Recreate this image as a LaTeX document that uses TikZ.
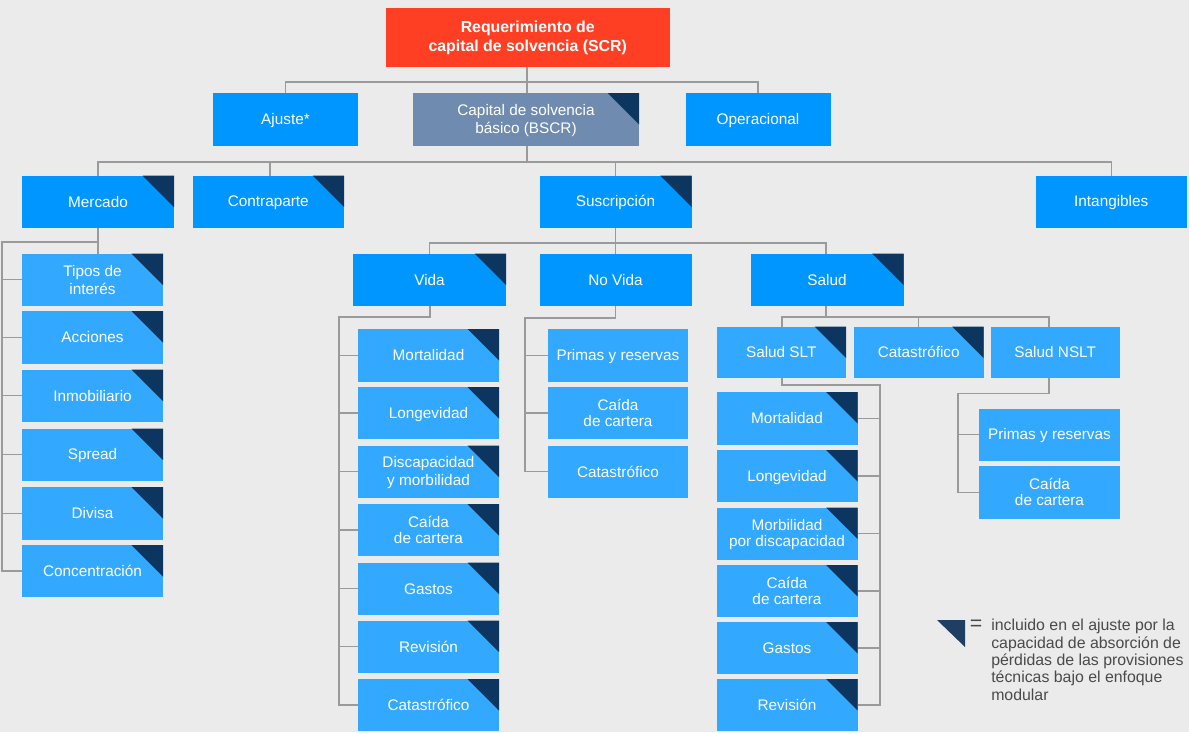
\documentclass[tikz,border=0pt]{standalone}
\usepackage{fontspec}
\setmainfont{Liberation Sans}
\definecolor{bgc}{HTML}{EBEBEB}
\definecolor{redc}{HTML}{FF3F24}
\definecolor{blue1}{HTML}{0096FF}
\definecolor{blue2}{HTML}{33A8FF}
\definecolor{slatec}{HTML}{6F8CB0}
\definecolor{navyc}{HTML}{0C365F}
\definecolor{legc}{HTML}{1F3E63}
\definecolor{linec}{HTML}{9A9A9A}
\definecolor{legtext}{HTML}{4A4A4A}
\tikzset{
  boxbase/.style={inner sep=0pt,outer sep=0pt,align=center,text=white,
    font=\fontsize{11.5}{12}\selectfont},
  lvlone/.style={boxbase,fill=blue1},
  lvltwo/.style={boxbase,fill=blue2},
  toproot/.style={boxbase,fill=redc,font=\fontsize{11.9}{14}\selectfont\bfseries},
  basic/.style={boxbase,fill=slatec},
  conn/.style={draw=linec,line width=1.1pt,line cap=square},
  corner/.style={fill=navyc}
}
\newcommand{\tstrut}{\rule[-1.4pt]{0pt}{11.4pt}}
% \bx{style}{name}{x1}{y1}{x2}{y2}{text}
\newcommand{\bx}[7]{%
  \pgfmathsetmacro{\bw}{(#5-#3)*0.75}%
  \pgfmathsetmacro{\bh}{(#6-#4)*0.75}%
  \pgfmathsetmacro{\bcx}{(#3+#5)/2}%
  \pgfmathsetmacro{\bcy}{(#4+#6)/2}%
  \node[#1,minimum width=\bw pt,minimum height=\bh pt] (#2) at (\bcx,\bcy) {\tstrut #7};}
\newcommand{\nl}{\\\tstrut}
\newcommand{\flag}[1]{\fill[corner] (#1.north east) -- ++(-31.5,0) -- ($(#1.north east)+(0,31.5)$) -- cycle;}
\usetikzlibrary{calc}
\begin{document}
\begin{tikzpicture}[x=0.75pt,y=-0.75pt]
\fill[bgc] (0,0) rectangle (1189,732);
\useasboundingbox (0,0) rectangle (1189,732);
% top
\bx{toproot}{scr}{386}{7.5}{669.5}{67}{Requerimiento de\nl capital de solvencia (SCR)}
\bx{lvlone}{ajuste}{213}{93}{358}{146}{Ajuste*}
\bx{basic}{bscr}{413}{93}{639}{146}{Capital de solvencia\nl básico (BSCR)}
\bx{lvlone}{oper}{685.5}{93}{830.5}{146}{Operacional}
% row 3
\bx{lvlone}{mercado}{22}{175.5}{174}{228}{Mercado}
\bx{lvlone}{contra}{192.5}{175.5}{344}{228}{Contraparte}
\bx{lvlone}{suscr}{539.5}{175.5}{691.5}{228}{Suscripción}
\bx{lvlone}{intang}{1035.5}{175.5}{1187}{228}{Intangibles}
% row 4
\bx{lvlone}{vida}{353}{253.5}{506}{306}{Vida}
\bx{lvlone}{novida}{539.5}{253.5}{691.5}{306}{No Vida}
\bx{lvlone}{salud}{750.5}{253.5}{903.5}{306}{Salud}
% mercado children
\bx{lvltwo}{tipos}{22}{253.5}{163}{306}{Tipos de\nl interés}
\bx{lvltwo}{acciones}{22}{311}{163}{363.5}{Acciones}
\bx{lvltwo}{inmob}{22}{369.5}{163}{422}{Inmobiliario}
\bx{lvltwo}{spread}{22}{428.5}{163}{481}{Spread}
\bx{lvltwo}{divisa}{22}{487}{163}{539.5}{Divisa}
\bx{lvltwo}{concen}{22}{545}{163}{597}{Concentración}
% vida children
\bx{lvltwo}{vmort}{358}{329}{499}{381.5}{Mortalidad}
\bx{lvltwo}{vlong}{358}{387}{499}{439}{Longevidad}
\bx{lvltwo}{vdisc}{358}{445.5}{499}{497.5}{Discapacidad\nl y morbilidad}
\bx{lvltwo}{vcaida}{358}{504}{499}{556}{Caída\nl de cartera}
\bx{lvltwo}{vgast}{358}{562.5}{499}{615}{Gastos}
\bx{lvltwo}{vrev}{358}{620.5}{499}{673}{Revisión}
\bx{lvltwo}{vcat}{358}{679}{499}{731}{Catastrófico}
% no vida children
\bx{lvltwo}{nprim}{548}{329}{688}{381.5}{Primas y reservas}
\bx{lvltwo}{ncaida}{548}{387}{688}{439}{Caída\nl de cartera}
\bx{lvltwo}{ncat}{548}{445.5}{688}{497.5}{Catastrófico}
% salud children
\bx{lvltwo}{slt}{716.5}{326.5}{846}{378}{Salud SLT}
\bx{lvltwo}{scat}{854}{326.5}{983.5}{378}{Catastrófico}
\bx{lvltwo}{nslt}{990.5}{326.5}{1120}{378}{Salud NSLT}
% SLT children
\bx{lvltwo}{smort}{716.5}{392}{857.5}{444.5}{Mortalidad}
\bx{lvltwo}{slong}{716.5}{450}{857.5}{502}{Longevidad}
\bx{lvltwo}{smorb}{716.5}{507.5}{857.5}{560}{Morbilidad\nl por discapacidad}
\bx{lvltwo}{scaida}{716.5}{565}{857.5}{617}{Caída\nl de cartera}
\bx{lvltwo}{sgast}{716.5}{622}{857.5}{674}{Gastos}
\bx{lvltwo}{srev}{716.5}{679}{857.5}{731}{Revisión}
% NSLT children
\bx{lvltwo}{tprim}{979}{408.5}{1120}{461}{Primas y reservas}
\bx{lvltwo}{tcaida}{979}{466}{1120}{518.5}{Caída\nl de cartera}
% corners
\foreach \n in {bscr,mercado,contra,suscr,vida,salud,tipos,acciones,inmob,spread,divisa,concen,
  vmort,vlong,vdisc,vcaida,vgast,vrev,vcat,slt,scat,smort,slong,smorb,scaida,sgast,srev}{\flag{\n}}
% junctions
\coordinate (ja) at (527,82);
\coordinate (jb) at (527,162);
\coordinate (jc) at (270,162);
\coordinate (jd) at (615.5,243);
\coordinate (je) at (98,242);
\coordinate (jf) at (2,242);
\coordinate (jg) at (430,317);
\coordinate (jh) at (339,317);
\coordinate (ji) at (615.5,318);
\coordinate (jj) at (525,318);
\coordinate (jk) at (826,317);
\coordinate (jl) at (782,317);
\coordinate (jm) at (1049,317);
\coordinate (jn) at (782,385);
\coordinate (jo) at (880,385);
\coordinate (jp) at (1049,393.5);
\coordinate (jq) at (958,393.5);
% level 1
\draw[conn] (ja |- scr.south) -- (ja |- bscr.north);
\draw[conn] (ajuste.north) -- (ajuste.north |- ja) -- (oper.north |- ja) -- (oper.north);
% level 2
\draw[conn] (jb |- bscr.south) -- (jb);
\draw[conn] (mercado.north) -- (mercado.north |- jb) -- (intang.north |- jb) -- (intang.north);
\draw[conn] (jc) -- (jc |- contra.north);
\draw[conn] (suscr.north |- jb) -- (suscr.north);
% suscripcion
\draw[conn] (jd |- suscr.south) -- (jd |- novida.north);
\draw[conn] (vida.north) -- (vida.north |- jd) -- (jk |- jd) -- (jk |- salud.north);
% mercado
\draw[conn] (je |- mercado.south) -- (je |- tipos.north);
\draw[conn] (je) -- (jf) -- (jf |- concen.west) -- (concen.west);
\foreach \n in {tipos,acciones,inmob,spread,divisa}{\draw[conn] (jf |- \n.west) -- (\n.west);}
% vida
\draw[conn] (jg |- vida.south) -- (jg) -- (jh) -- (jh |- vcat.west) -- (vcat.west);
\foreach \n in {vmort,vlong,vdisc,vcaida,vgast,vrev}{\draw[conn] (jh |- \n.west) -- (\n.west);}
% no vida
\draw[conn] (ji |- novida.south) -- (ji) -- (jj) -- (jj |- ncat.west) -- (ncat.west);
\foreach \n in {nprim,ncaida}{\draw[conn] (jj |- \n.west) -- (\n.west);}
% salud
\draw[conn] (jk |- salud.south) -- (jk);
\draw[conn] (jl |- slt.north) -- (jl) -- (jm) -- (jm |- nslt.north);
\draw[conn] (scat.north) -- (scat.north |- jl);
% SLT
\draw[conn] (jn |- slt.south) -- (jn) -- (jo) -- (jo |- srev.east) -- (srev.east);
\foreach \n in {smort,slong,smorb,scaida,sgast}{\draw[conn] (jo |- \n.east) -- (\n.east);}
% NSLT
\draw[conn] (jp |- nslt.south) -- (jp) -- (jq) -- (jq |- tcaida.west) -- (tcaida.west);
\draw[conn] (jq |- tprim.west) -- (tprim.west);
% legend
\fill[legc] (937,620) -- (965,620) -- (965,647) -- cycle;
\node[inner sep=0pt,text=legtext,font=\fontsize{16}{16}\selectfont] (legeq) at (976,625) {=};
\node[inner sep=0pt,anchor=north west,align=left,text=legtext,
  font=\fontsize{11.9}{13}\selectfont] (legend) at (991,619)
  {incluido en el ajuste por la\\capacidad de absorción de\\pérdidas de las provisiones\\técnicas bajo el enfoque\\modular};
\end{tikzpicture}
\end{document}
